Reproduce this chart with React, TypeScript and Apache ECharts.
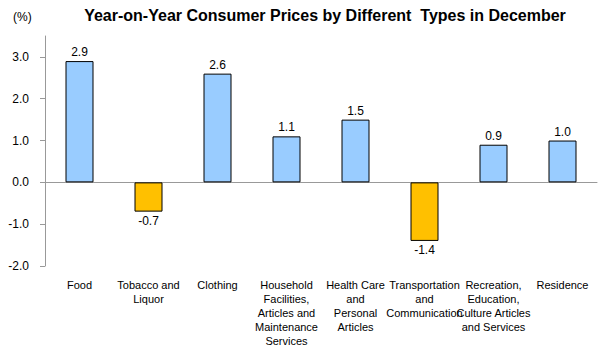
import React, { useEffect, useRef } from "react";
import * as echarts from "echarts";

const categories = [
  "Food",
  "Tobacco and\nLiquor",
  "Clothing",
  "Household\nFacilities,\nArticles and\nMaintenance\nServices",
  "Health Care\nand\nPersonal\nArticles",
  "Transportation\nand\nCommunication",
  "Recreation,\nEducation,\nCulture Articles\nand Services",
  "Residence",
];
const values = [2.9, -0.7, 2.6, 1.1, 1.5, -1.4, 0.9, 1.0];
const yTicks = [-2, -1, 0, 1, 2, 3];

const FONT = "'Liberation Sans', Arial, sans-serif";

export default function App() {
  const ref = useRef<HTMLDivElement>(null);
  useEffect(() => {
    if (!ref.current) return;
    const chart = echarts.init(ref.current, undefined, { renderer: "svg" });
    chart.setOption({
      animation: false,
      backgroundColor: "#ffffff",
      textStyle: { fontFamily: FONT },
      title: {
        text: "Year-on-Year Consumer Prices by Different  Types in December",
        left: 320,
        textAlign: "center",
        top: 2,
        textStyle: { fontSize: 16, fontWeight: "bold", color: "#000", fontFamily: FONT },
      },
      graphic: [
        {
          type: "text",
          left: 13,
          top: 11,
          style: { text: "(%)", fontSize: 12, fill: "#000", fontFamily: FONT },
        },
      ],
      grid: { left: 45, right: 9, top: 36, bottom: 84, containLabel: false },
      xAxis: [
        {
          type: "category",
          data: categories,
          axisLine: { onZero: true, lineStyle: { color: "#999999", width: 1 } },
          axisTick: { show: false },
          axisLabel: { show: false },
        },
        {
          type: "category",
          data: categories,
          position: "bottom",
          axisLine: { show: false, onZero: false },
          axisTick: { show: false },
          axisLabel: {
            interval: 0,
            margin: 12,
            fontSize: 11,
            lineHeight: 14,
            color: "#000",
            fontFamily: FONT,
            align: "center",
          },
        },
      ],
      yAxis: {
        type: "value",
        min: -2,
        max: 3.5,
        interval: 1,
        splitLine: { show: false },
        axisLine: { show: true, lineStyle: { color: "#999999" } },
        axisTick: {
          show: true,
          inside: false,
          length: 5,
          lineStyle: { color: "#999999" },
          customValues: yTicks,
        },
        axisLabel: {
          margin: 16,
          fontSize: 12,
          color: "#000",
          fontFamily: FONT,
          customValues: yTicks,
          formatter: (v: number) => v.toFixed(1),
        },
      },
      series: [
        {
          type: "bar",
          xAxisIndex: 0,
          barWidth: 28,
          data: values.map((v) => ({
            value: v,
            itemStyle: {
              color: v >= 0 ? "#99CCFF" : "#FFC000",
              borderColor: "#000",
              borderWidth: 1,
            },
            label: { position: v >= 0 ? "top" : "bottom" },
          })),
          label: {
            show: true,
            fontSize: 12,
            color: "#000",
            distance: 3,
            fontFamily: FONT,
            formatter: (p: any) => Number(p.value).toFixed(1),
          },
        },
      ],
    });
    return () => chart.dispose();
  }, []);
  return (
    <div
      ref={ref}
      style={{ position: "absolute", left: 0, top: 0, width: 606, height: 350 }}
    />
  );
}
